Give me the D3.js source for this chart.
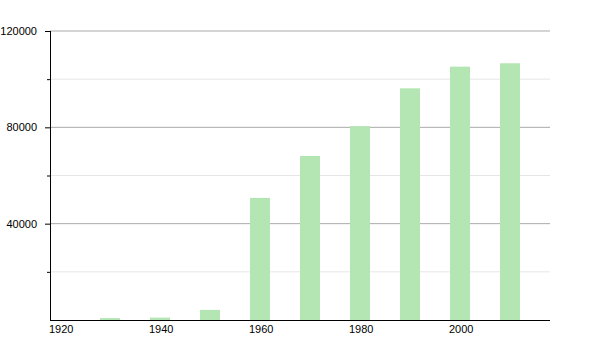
<!DOCTYPE html>
<html>
<head>
<meta charset="utf-8">
<script src="https://cdn.jsdelivr.net/npm/d3@7"></script>
<style>
  body { margin: 0; background: #fff; }
  text { font-family: "Liberation Sans", Arial, sans-serif; font-size: 11px; fill: #000; }
</style>
</head>
<body>
<div id="chart"></div>
<script>
  'use strict';

  // population by census year
  var years = [1930, 1940, 1950, 1960, 1970, 1980, 1990, 2000, 2010];
  var population = [800, 1000, 4200, 50700, 68100, 80500, 96200, 105200, 106600];
  var majorTicks = [40000, 80000, 120000];
  var minorTicks = [20000, 60000, 100000];
  var yearTicks = [1920, 1940, 1960, 1980, 2000];

  var width = 600, height = 350;
  var margin = { top: 31, right: 50, bottom: 30, left: 50 };

  var svg = d3.select('#chart').append('svg')
    .attr('width', width)
    .attr('height', height);

  var x = d3.scaleLinear()
    .domain([1920, 2020])
    .range([margin.left, width - margin.right]);

  var y = d3.scaleLinear()
    .domain([0, 120000])
    .range([height - margin.bottom, margin.top]);

  // soft edges on the bars
  svg.append('defs').append('filter')
    .attr('id', 'soft')
    .attr('x', '-20%').attr('width', '140%')
    .append('feGaussianBlur')
    .attr('stdDeviation', 0.7);

  // minor gridlines
  svg.append('g').selectAll('line')
    .data(minorTicks)
    .enter().append('line')
      .attr('x1', x(1920)).attr('x2', x(2020))
      .attr('y1', function(d) { return y(d); })
      .attr('y2', function(d) { return y(d); })
      .attr('stroke', '#e6e6e6');

  // major gridlines
  svg.append('g').selectAll('line')
    .data(majorTicks)
    .enter().append('line')
      .attr('x1', x(1920)).attr('x2', x(2020))
      .attr('y1', function(d) { return y(d); })
      .attr('y2', function(d) { return y(d); })
      .attr('stroke', '#aaa');

  // bars, 4 years wide starting at the census year
  svg.append('g').selectAll('rect')
    .data(years)
    .enter().append('rect')
      .attr('x', function(d) { return x(d); })
      .attr('width', x(1924) - x(1920))
      .attr('y', function(d, i) { return y(population[i]); })
      .attr('height', function(d, i) { return y(0) - y(population[i]); })
      .attr('fill', '#b3e6b3')
      .attr('filter', 'url(#soft)');

  // y axis
  var yAxis = svg.append('g')
    .attr('transform', 'translate(' + margin.left + ',0)')
    .call(d3.axisLeft(y)
      .tickValues(majorTicks)
      .tickFormat(d3.format('d'))
      .tickSize(5).tickSizeOuter(0).tickPadding(8));
  yAxis.select('.domain').attr('stroke', '#000').attr('d', 'M0.5,' + y(0) + 'V' + y(120000));
  yAxis.selectAll('text').style('font-size', '11px').attr('fill', '#000');

  svg.append('g').selectAll('line')
    .data(minorTicks)
    .enter().append('line')
      .attr('x1', margin.left - 3).attr('x2', margin.left)
      .attr('y1', function(d) { return y(d) + 0.5; })
      .attr('y2', function(d) { return y(d) + 0.5; })
      .attr('stroke', '#000');

  // x axis
  svg.append('line')
    .attr('x1', x(1920)).attr('x2', x(2020))
    .attr('y1', y(0) + 0.5).attr('y2', y(0) + 0.5)
    .attr('stroke', '#000');

  svg.append('g').selectAll('text')
    .data(yearTicks)
    .enter().append('text')
      .attr('x', function(d) { return x(d) - 1; })
      .attr('y', y(0) + 13)
      .text(function(d) { return d; });
</script>
</body>
</html>
